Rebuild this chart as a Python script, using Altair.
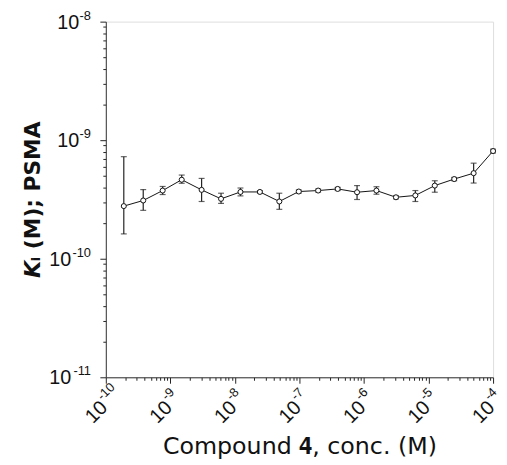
import altair as alt
import pandas as pd

# ---- data ----
conc = [1.9e-10, 3.8e-10, 7.6e-10, 1.5e-9, 3.05e-9, 6.1e-9, 1.22e-8, 2.44e-8,
        4.88e-8, 9.77e-8, 1.95e-7, 3.91e-7, 7.81e-7, 1.56e-6, 3.13e-6, 6.25e-6,
        1.25e-5, 2.5e-5, 5.0e-5, 1.0e-4]
ki = [2.78e-10, 3.1e-10, 3.76e-10, 4.64e-10, 3.81e-10, 3.2e-10, 3.66e-10, 3.66e-10,
      3.04e-10, 3.69e-10, 3.76e-10, 3.88e-10, 3.64e-10, 3.76e-10, 3.3e-10, 3.42e-10,
      4.14e-10, 4.7e-10, 5.27e-10, 8.1e-10]
ki_hi = [7.26e-10, 3.83e-10, 4.07e-10, 5.08e-10, 4.76e-10, 3.57e-10, 3.95e-10, 3.75e-10,
         3.57e-10, 3.8e-10, 3.87e-10, 4.0e-10, 4.14e-10, 4.05e-10, 3.4e-10, 3.76e-10,
         4.55e-10, 4.85e-10, 6.4e-10, 8.4e-10]
ki_lo = [1.62e-10, 2.56e-10, 3.48e-10, 4.33e-10, 3.04e-10, 2.93e-10, 3.39e-10, 3.57e-10,
         2.61e-10, 3.58e-10, 3.65e-10, 3.76e-10, 3.16e-10, 3.5e-10, 3.2e-10, 3.04e-10,
         3.64e-10, 4.55e-10, 4.35e-10, 7.8e-10]

# tick labels: base "10" with an exponent
x_decades = [1e-10, 1e-9, 1e-8, 1e-7, 1e-6, 1e-5, 1e-4]
x_exps = ["-10", "-9", "-8", "-7", "-6", "-5", "-4"]
y_decades = [1e-11, 1e-10, 1e-9, 1e-8]
y_exps = ["-11", "-10", "-9", "-8"]
base_txt = "10"

x_title = "Compound 𝟒, conc. (M)"
y_title = "𝙆ᵢ (M); PSMA"

df = pd.DataFrame({"conc": conc, "ki": ki, "lo": ki_lo, "hi": ki_hi})
xlab = pd.DataFrame({"v": x_decades, "exp": x_exps, "base": base_txt})
ylab = pd.DataFrame({"v": y_decades, "exp": y_exps, "base": base_txt})


def with_minor(decades):
    vals = []
    for d in decades:
        vals.append(d)
        if d != decades[-1]:
            vals.extend([m * d for m in range(2, 10)])
    return vals


MAJOR = "abs(log(datum.value)/LN10 - round(log(datum.value)/LN10)) < 1e-6"
TICK = {"condition": {"test": MAJOR, "value": 6}, "value": 3}
LFONT = "Liberation Sans"
TFONT = "DejaVu Sans"

xaxis = alt.Axis(values=with_minor(x_decades), labels=False,
                 tickSize=TICK, tickWidth=1, tickColor="#222", domainColor="#333",
                 grid=False, titleFont=TFONT, titleFontSize=24, titleFontWeight="normal",
                 titleColor="#111", titlePadding=52)
yaxis = alt.Axis(values=with_minor(y_decades), labels=False,
                 tickSize=TICK, tickWidth=1, tickColor="#222", domainColor="#333",
                 grid=False, titleFont=TFONT, titleFontSize=22, titleFontWeight="bold",
                 titleColor="#111", titlePadding=56)

xs = alt.Scale(type="log", domain=[1e-10, 1e-4], nice=False)
ys = alt.Scale(type="log", domain=[1e-11, 1e-8], nice=False)

X = alt.X("conc:Q", scale=xs, axis=xaxis, title=x_title)


def Y(field):
    return alt.Y(field, scale=ys, axis=yaxis, title=y_title)


base = alt.Chart(df)
line = base.mark_line(color="#111", strokeWidth=1).encode(x=X, y=Y("ki:Q"))
err = base.mark_errorbar(ticks=True, size=6, thickness=1.2, color="#222").encode(
    x=X, y=Y("lo:Q"), y2="hi:Q")
pts = base.mark_point(shape="circle", filled=True, fill="white", stroke="#111",
                      strokeWidth=1, size=26, opacity=1).encode(x=X, y=Y("ki:Q"))

# x tick labels (rotated), "10" plus raised exponent
XV = alt.X("v:Q", scale=xs, axis=xaxis, title=x_title)
xl_base = alt.Chart(xlab).mark_text(
    font=LFONT, fontSize=20, angle=315, align="right", baseline="middle",
    dx=-20.5, dy=18.5, color="#111").encode(x=XV, y=alt.value(360), text="base:N")
xl_exp = alt.Chart(xlab).mark_text(
    font=LFONT, fontSize=13, angle=315, align="left", baseline="middle",
    dx=-19.5, dy=10.5, color="#111").encode(x=XV, y=alt.value(360), text="exp:N")

# y tick labels
YV = Y("v:Q")
yl_exp = alt.Chart(ylab).mark_text(
    font=LFONT, fontSize=13, align="right", baseline="middle",
    dx=-15, dy=-6, color="#111").encode(x=alt.value(0), y=YV, text="exp:N")
yl_base2 = alt.Chart(ylab).transform_filter("length(datum.exp) == 2").mark_text(
    font=LFONT, fontSize=20, align="right", baseline="middle",
    dx=-27, dy=1, color="#111").encode(x=alt.value(0), y=YV, text="base:N")
yl_base3 = alt.Chart(ylab).transform_filter("length(datum.exp) == 3").mark_text(
    font=LFONT, fontSize=20, align="right", baseline="middle",
    dx=-35, dy=1, color="#111").encode(x=alt.value(0), y=YV, text="base:N")

chart = alt.layer(line, err, pts, xl_base, xl_exp, yl_exp, yl_base2, yl_base3).properties(
    width=392, height=360,
    autosize=alt.AutoSizeParams(type="none"),
    padding={"left": 99, "top": 11, "right": 6, "bottom": 88},
).configure_view(stroke="#777", strokeWidth=1).configure(background="white")

chart.save("out.html", embed_options={"renderer": "svg", "actions": False})
